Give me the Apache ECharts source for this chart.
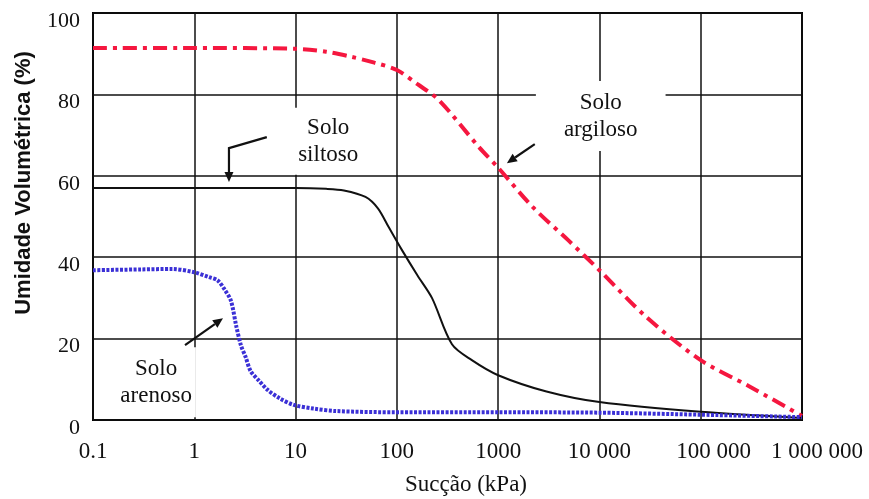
<!DOCTYPE html>
<html><head><meta charset="utf-8">
<script src="https://cdn.jsdelivr.net/npm/echarts/dist/echarts.min.js"></script>
<style>html,body{margin:0;padding:0;background:#fff}#c{width:869px;height:499px}</style>
</head><body><div id="c"></div>
<script>
// ---- data ----
const xTickLabels = ['0.1', '1', '10', '100', '1000', '10 000', '100 000', '1 000 000'];
const yAxisName = 'Umidade Volumétrica (%)';
const xAxisName = 'Sucção (kPa)';

const argilosoX = [0.1, 1, 10, 20, 36, 60, 100, 160, 260, 650, 1000, 2200, 5000, 10000, 29000, 100000, 300000, 1000000];
const argilosoY = [91.4, 91.4, 91.2, 90.5, 89.2, 87.8, 86, 82.5, 78.6, 67, 62, 52.3, 44, 36.8, 25.3, 14.7, 8.3, 1];

const siltosoX = [0.1, 1, 10, 20, 30, 49, 65, 83, 112, 160, 222, 350, 550, 1000, 3000, 10000, 100000, 1000000];
const siltosoY = [57, 57, 57, 56.8, 56.4, 54.8, 52, 47.4, 41.8, 35.5, 30, 18.6, 14.7, 11, 7, 4.4, 2, 0.5];

const arenosoX = [0.1, 0.3, 0.6, 1, 1.4, 1.7, 2, 2.3, 2.6, 2.9, 3.2, 3.6, 4.3, 5.3, 7, 9.6, 15, 25, 100, 1000, 10000, 100000, 1000000];
const arenosoY = [36.8, 37.0, 37.1, 36.3, 35.1, 34.3, 32, 29.3, 23, 18.2, 15.6, 12, 9.8, 7.4, 5.3, 3.7, 2.8, 2.2, 1.9, 1.9, 1.8, 1.3, 0.7];

// annotation anchors (data coordinates)
const siltosoLabel = ['Solo', 'siltoso'];
const argilosoLabel = ['Solo', 'argiloso'];
const arenosoLabel = ['Solo', 'arenoso'];
const siltosoLabelAt = [21, 68.5];
const argilosoLabelAt = [10300, 74.7];
const arenosoLabelAt = [0.42, 9.3];
const siltosoArrow = [[5.2, 69.5], [2.2, 66.8], [2.2, 58.5]];
const arenosoArrow = [[0.81, 18.4], [1.92, 25]];
const argilosoArrow = [[2300, 67.8], [1220, 63.1]];

function pairs(xs, ys) { return xs.map((x, i) => [x, ys[i]]); }

const chart = echarts.init(document.getElementById('c'), null, {renderer: 'canvas'});
const serif = '"Liberation Serif", "Times New Roman", serif';

chart.setOption({
  animation: false,
  backgroundColor: '#fff',
  grid: {left: 93, right: 67, top: 13, bottom: 79, show: true, borderColor: '#000', borderWidth: 2, backgroundColor: 'transparent'},
  xAxis: {
    type: 'log', logBase: 10, min: 0.1, max: 1000000,
    axisLine: {show: false}, axisTick: {show: false}, minorTick: {show: false},
    splitLine: {show: true, lineStyle: {color: '#111', width: 1.5}},
    axisLabel: {
      margin: 20, color: '#111', fontFamily: serif, fontSize: 23,
      formatter: function (v) {
        const i = Math.round(Math.log10(v)) + 1;
        const t = xTickLabels[i];
        if (i === 6) return '{a|' + t + '}';
        if (i === 7) return '{b|' + t + '}';
        return t;
      },
      rich: {
        a: {fontFamily: serif, fontSize: 23, color: '#111', padding: [0, 0, 0, 26]},
        b: {fontFamily: serif, fontSize: 23, color: '#111', padding: [0, 0, 0, 30]}
      }
    }
  },
  yAxis: {
    type: 'value', min: 0, max: 100, interval: 20,
    axisLine: {show: false}, axisTick: {show: false},
    splitLine: {show: true, lineStyle: {color: '#111', width: 1.5}},
    axisLabel: {margin: 13, color: '#111', fontFamily: serif, fontSize: 22, verticalAlign: 'top', lineHeight: 16}
  },
  series: [
    {type: 'line', name: 'argiloso', data: pairs(argilosoX, argilosoY), symbol: 'none', smooth: 0.3,
     lineStyle: {color: '#f5173f', width: 4, type: [14, 6, 4, 6], cap: 'butt'}, z: 3},
    {type: 'line', name: 'siltoso', data: pairs(siltosoX, siltosoY), symbol: 'none', smooth: 0.3,
     lineStyle: {color: '#111', width: 2}, z: 3},
    {type: 'line', name: 'arenoso', data: pairs(arenosoX, arenosoY), symbol: 'none', smooth: 0.3,
     lineStyle: {color: '#3b30d6', width: 4, type: [3, 1.5], cap: 'butt'}, z: 3}
  ]
});

function px(p) { return chart.convertToPixel({gridIndex: 0}, p); }

const elements = [];
function addLabel(lines, at, pad) {
  const p = px(at);
  elements.push({
    type: 'text', z: 50, x: p[0], y: p[1],
    style: {
      text: lines.join('\n'), align: 'center', verticalAlign: 'middle',
      font: '23px ' + serif, lineHeight: 27, fill: '#111',
      backgroundColor: '#fff', padding: pad
    }
  });
}
function addArrow(coords) {
  const pts = coords.map(px);
  const tip = pts[pts.length - 1], prev = pts[pts.length - 2];
  let dx = tip[0] - prev[0], dy = tip[1] - prev[1];
  const len = Math.hypot(dx, dy); dx /= len; dy /= len;
  const hl = 10, hw = 4.5;
  const base = [tip[0] - dx * hl, tip[1] - dy * hl];
  const linePts = pts.slice(0, -1).concat([base]);
  elements.push({type: 'polyline', z: 60, shape: {points: linePts}, style: {stroke: '#111', lineWidth: 2.2, fill: null}});
  elements.push({type: 'polygon', z: 60, shape: {points: [tip, [base[0] - dy * hw, base[1] + dx * hw], [base[0] + dy * hw, base[1] - dx * hw]]},
    style: {fill: '#111'}});
}
addLabel(siltosoLabel, siltosoLabelAt, [9, 8, 4, 8]);
addLabel(argilosoLabel, argilosoLabelAt, [8, 28]);
addLabel(arenosoLabel, arenosoLabelAt, [8, 4]);
addArrow(siltosoArrow);
addArrow(arenosoArrow);
addArrow(argilosoArrow);

elements.push({
  type: 'text', z: 50, x: 24, y: 183, rotation: Math.PI / 2,
  style: {text: yAxisName, align: 'center', verticalAlign: 'middle', font: 'bold 22px "Liberation Sans", Arial, sans-serif', fill: '#111'}
});
elements.push({
  type: 'text', z: 50, x: 466, y: 485,
  style: {text: xAxisName, align: 'center', verticalAlign: 'middle', font: '23px ' + serif, fill: '#111'}
});
chart.setOption({graphic: {elements: elements}});
</script>
</body></html>
